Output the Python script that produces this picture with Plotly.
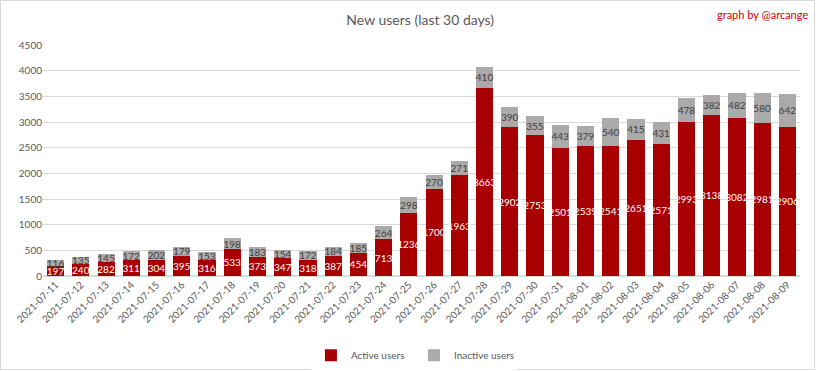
import plotly.graph_objects as go

dates = ["2021-07-11","2021-07-12","2021-07-13","2021-07-14","2021-07-15","2021-07-16","2021-07-17",
         "2021-07-18","2021-07-19","2021-07-20","2021-07-21","2021-07-22","2021-07-23","2021-07-24",
         "2021-07-25","2021-07-26","2021-07-27","2021-07-28","2021-07-29","2021-07-30","2021-07-31",
         "2021-08-01","2021-08-02","2021-08-03","2021-08-04","2021-08-05","2021-08-06","2021-08-07",
         "2021-08-08","2021-08-09"]
active = [197,240,282,311,304,395,316,533,373,347,318,387,454,713,1236,1700,1963,3663,2902,2753,
          2501,2539,2541,2651,2571,2993,3138,3082,2981,2906]
inactive = [116,135,145,172,202,179,153,198,183,154,172,184,185,264,298,270,271,410,390,355,
            443,379,540,415,431,478,382,482,580,642]
y_ticks = [0,500,1000,1500,2000,2500,3000,3500,4000,4500]

FONT = "Lato, 'Open Sans', sans-serif"
W, H = 816, 371
ML, MR, MT, MB = 43, 16, 45, 95
PW, PH = W - ML - MR, H - MT - MB

fig = go.Figure()
fig.add_trace(go.Bar(
    x=dates, y=active, name="Active users",
    marker=dict(color="#A80000", line=dict(width=0)),
    text=[str(v) for v in active], textposition="inside", insidetextanchor="middle",
    textangle=0,
    textfont=dict(color="white", size=10, family=FONT), constraintext="none",
    cliponaxis=False,
))
fig.add_trace(go.Bar(
    x=dates, y=inactive, name="Inactive users",
    marker=dict(color="#ABA9A9", line=dict(width=0)),
    text=[str(v) for v in inactive], textposition="inside", insidetextanchor="middle",
    textangle=0,
    textfont=dict(color="#404040", size=10, family=FONT), constraintext="none",
    cliponaxis=False,
))

fig.update_layout(
    width=W, height=H,
    barmode="stack", bargap=0.32,
    margin=dict(l=ML, r=MR, t=MT, b=MB, autoexpand=False),
    paper_bgcolor="white", plot_bgcolor="white",
    font=dict(family=FONT, color="#595959", size=10),
    uniformtext=dict(minsize=10, mode="show"),
    title=dict(text="New users (last 30 days)", x=0.515, xanchor="center", y=0.945, yanchor="middle",
               font=dict(size=14, color="#595959", family=FONT)),
    showlegend=True,
    legend=dict(orientation="h", x=0.49, xanchor="center", y=-0.28, yanchor="top",
                font=dict(size=10, color="#595959", family=FONT), itemwidth=30,
                entrywidth=58, entrywidthmode="pixels",
                traceorder="normal"),
    xaxis=dict(type="category", tickangle=-45, tickfont=dict(size=10, color="#595959"),
               showgrid=False, showline=False, ticks="", automargin=False),
    yaxis=dict(range=[0, 4500], tickvals=y_ticks, tickfont=dict(size=10, color="#595959"),
               showgrid=True, gridcolor="#D9D9D9", gridwidth=1, zeroline=True,
               zerolinecolor="#D9D9D9", ticks="", showline=False, automargin=False),
)

fig.add_annotation(text="graph by @arcange", xref="paper", yref="paper",
                   x=(W - 6 - ML) / PW, y=1 + (MT - 15) / PH, xanchor="right", yanchor="middle",
                   showarrow=False, font=dict(size=11, color="#CC0000", family=FONT))

fig.add_shape(type="rect", xref="paper", yref="paper",
              x0=-(ML - 0.5) / PW, x1=1 + (MR - 1.5) / PW,
              y0=-(MB - 1.5) / PH, y1=1 + (MT - 0.5) / PH,
              line=dict(color="#D9D9D9", width=1), fillcolor="rgba(0,0,0,0)", layer="below")

fig.write_html("out.html", config={"displayModeBar": False},
               post_script="document.body.style.margin='0';document.body.style.overflow='hidden';")
